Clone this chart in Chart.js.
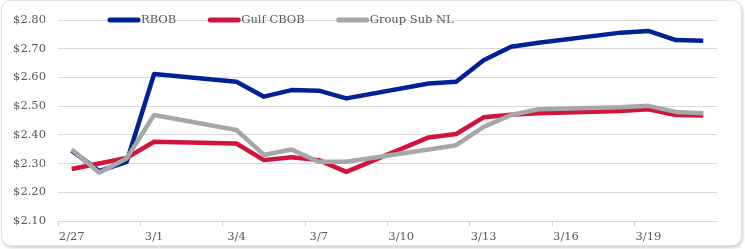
<!DOCTYPE html>
<html>
<head>
<meta charset="utf-8">
<script src="https://cdn.jsdelivr.net/npm/chart.js@4/dist/chart.umd.min.js"></script>
<style>
  html, body { margin: 0; padding: 0; background: #ffffff; }
  #card { position: absolute; left: 1px; top: 0px; width: 739px; height: 244px;
          border: 1px solid #e2e2e2; border-radius: 10px;
          box-shadow: 1px 2px 3px rgba(0,0,0,0.18); background: #fff; }
  #wrap { position: absolute; left: 0; top: 0; width: 745px; height: 249px; }
</style>
</head>
<body>
<div id="card"></div>
<div id="wrap"><canvas id="c" width="745" height="249"></canvas></div>
<script>
// All calendar days on the axis
const dayLabels = ['2/27','2/28','2/29','3/1','3/2','3/3','3/4','3/5','3/6','3/7','3/8','3/9','3/10',
                   '3/11','3/12','3/13','3/14','3/15','3/16','3/17','3/18','3/19','3/20','3/21'];
// Tick labels shown on the axis
const tickLabels = ['2/27','3/1','3/4','3/7','3/10','3/13','3/16','3/19'];
// Trading dates with data
const tradeDates = ['2/27','2/28','2/29','3/1','3/4','3/5','3/6','3/7','3/8',
                    '3/11','3/12','3/13','3/14','3/15','3/18','3/19','3/20','3/21'];
const rbob       = [2.345,2.274,2.306,2.612,2.585,2.533,2.556,2.554,2.527,
                    2.579,2.585,2.660,2.707,2.721,2.756,2.762,2.730,2.728];
const gulfCbob   = [2.281,2.300,2.320,2.376,2.370,2.312,2.322,2.312,2.271,
                    2.391,2.403,2.461,2.470,2.475,2.483,2.489,2.469,2.467];
const groupSubNL = [2.349,2.268,2.318,2.469,2.417,2.330,2.349,2.306,2.306,
                    2.349,2.364,2.428,2.469,2.489,2.496,2.501,2.480,2.475];
const seriesNames = ['RBOB','Gulf CBOB','Group Sub NL'];
const yTicks = [2.10,2.20,2.30,2.40,2.50,2.60,2.70,2.80];

const FONT = "'DejaVu Serif', 'Liberation Serif', serif";
const TXT = '#595959';

function pts(vals) { return tradeDates.map((d, i) => ({ x: d, y: vals[i] })); }

const legendPlugin = {
  id: 'customLegend',
  afterDraw(chart) {
    const ctx = chart.ctx;
    ctx.save();
    ctx.font = "11.5px " + FONT;
    ctx.textBaseline = 'middle';
    let x = 108; const y = 20;
    chart.data.datasets.forEach(ds => {
      ctx.strokeStyle = ds.borderColor;
      ctx.lineWidth = 5;
      ctx.lineCap = 'round';
      ctx.beginPath(); ctx.moveTo(x + 2, y); ctx.lineTo(x + 30, y); ctx.stroke();
      ctx.fillStyle = TXT;
      ctx.fillText(ds.label, x + 33, y + 0.5);
      x += 33 + ctx.measureText(ds.label).width + 32;
    });
    ctx.restore();
  }
};

new Chart(document.getElementById('c'), {
  type: 'line',
  data: {
    labels: dayLabels,
    datasets: [
      { label: seriesNames[0], data: pts(rbob), borderColor: '#012295', order: 3 },
      { label: seriesNames[1], data: pts(gulfCbob), borderColor: '#d0143c', order: 2 },
      { label: seriesNames[2], data: pts(groupSubNL), borderColor: '#a7a7a7', order: 1 }
    ]
  },
  options: {
    responsive: false,
    animation: false,
    devicePixelRatio: 1,
    layout: { padding: { left: 0, right: 28, top: 20, bottom: 0 } },
    elements: {
      line: { borderWidth: 4.5, tension: 0, borderJoinStyle: 'round', borderCapStyle: 'butt', fill: false },
      point: { radius: 0, hoverRadius: 0 }
    },
    plugins: { legend: { display: false }, tooltip: { enabled: false } },
    scales: {
      x: {
        type: 'category',
        offset: true,
        afterFit: s => { s.height = 28; },
        grid: {
          offset: true,
          drawOnChartArea: false,
          drawTicks: true,
          tickLength: 5,
          color: ctx => (ctx.index % 3 === 0 ? '#d0d0d0' : 'rgba(0,0,0,0)')
        },
        border: { display: true, color: '#d9d9d9', width: 1 },
        ticks: {
          autoSkip: false, maxRotation: 0, padding: 4,
          color: TXT, font: { family: FONT, size: 11.5 },
          callback: function (v, i) {
            const l = dayLabels[i];
            return tickLabels.includes(l) && i % 3 === 0 ? l : '';
          }
        }
      },
      y: {
        min: 2.10, max: 2.80,
        afterFit: s => { s.width = 58; },
        afterBuildTicks: s => { s.ticks = yTicks.map(v => ({ value: v })); },
        grid: { color: '#d9d9d9', lineWidth: 1, drawTicks: false },
        border: { display: false },
        ticks: {
          padding: 12, color: TXT, font: { family: FONT, size: 11.5 },
          callback: v => '$' + Number(v).toFixed(2)
        }
      }
    }
  },
  plugins: [legendPlugin]
});
</script>
</body>
</html>
